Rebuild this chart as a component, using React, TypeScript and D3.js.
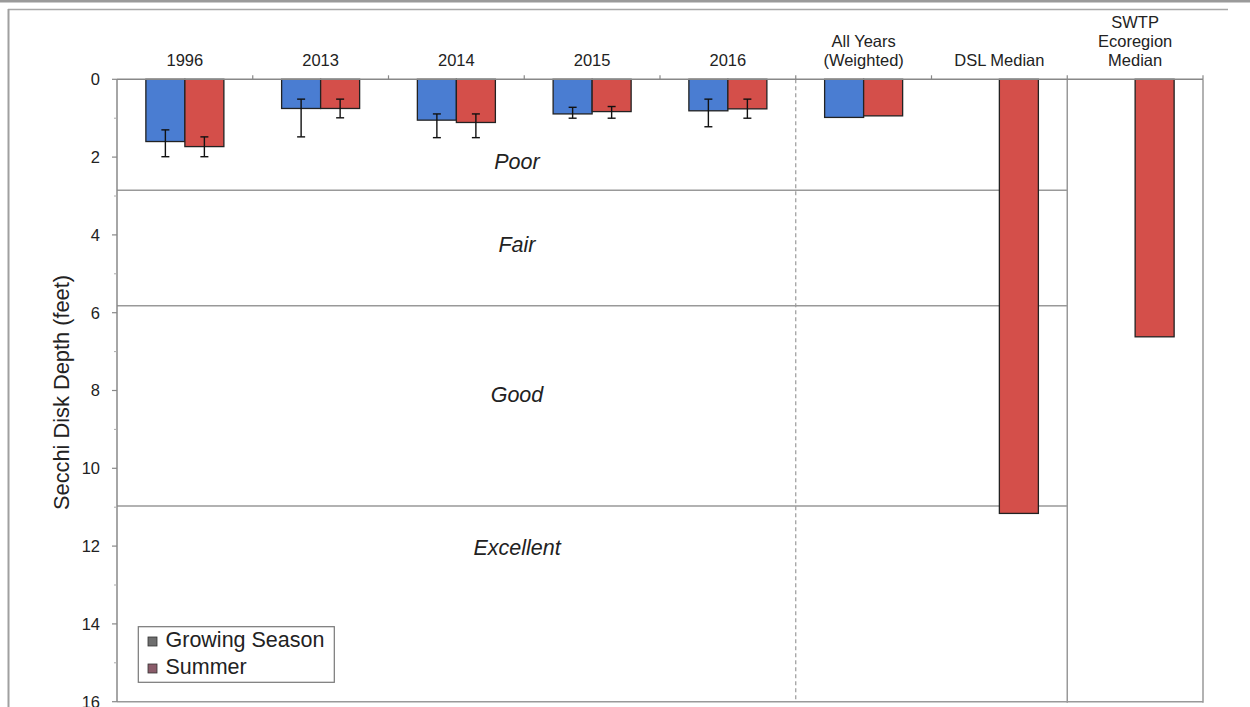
import React from 'react';
import * as d3 from 'd3';

const categories = ['1996', '2013', '2014', '2015', '2016', 'All Years (Weighted)', 'DSL Median', 'SWTP Ecoregion Median'];
const categoryLines = [['1996'], ['2013'], ['2014'], ['2015'], ['2016'], ['All Years', '(Weighted)'], ['DSL Median'], ['SWTP', 'Ecoregion', 'Median']];
const seriesNames = ['Growing Season', 'Summer'];
const growingSeason: (number | null)[] = [1.6, 0.75, 1.05, 0.89, 0.81, 0.98, null, null];
const summer: (number | null)[] = [1.73, 0.75, 1.11, 0.83, 0.76, 0.94, 11.16, 6.62];
const growingErrLow: (number | null)[] = [1.3, 0.51, 0.89, 0.72, 0.51, null, null, null];
const growingErrHigh: (number | null)[] = [1.99, 1.48, 1.5, 1.0, 1.22, null, null, null];
const summerErrLow: (number | null)[] = [1.48, 0.51, 0.89, 0.7, 0.51, null, null, null];
const summerErrHigh: (number | null)[] = [1.99, 0.99, 1.5, 1.0, 1.0, null, null, null];
const yTicks = [0, 2, 4, 6, 8, 10, 12, 14, 16];
const yMinorTicks = [1, 3, 5, 7, 9, 11, 13, 15];
const thresholds = [2.85, 5.82, 10.97];
const zoneNames = ['Poor', 'Fair', 'Good', 'Excellent'];
const zoneLabelDepth = [2.31, 4.45, 8.3, 12.23];

const W = 1250;
const H = 707;
const LEFT = 117;
const RIGHT = 1203;
const TOP = 79.3;
const BOTTOM = 701.7;
const FONT = 'Arial, "Liberation Sans", Helvetica, sans-serif';
const BLUE = '#4a7dd2';
const RED = '#d44f4a';

export default function App() {
  const x = d3.scaleBand<string>().domain(categories).range([LEFT, RIGHT]).paddingInner(0).paddingOuter(0);
  const xs = d3.scaleBand<string>().domain(seriesNames).range([0, x.bandwidth()]).paddingInner(0).paddingOuter(0.74);
  const y = d3.scaleLinear().domain([0, 16]).range([TOP, BOTTOM]);

  const series = [
    { name: seriesNames[0], values: growingSeason, lo: growingErrLow, hi: growingErrHigh, color: BLUE },
    { name: seriesNames[1], values: summer, lo: summerErrLow, hi: summerErrHigh, color: RED },
  ];

  const dashX = x(categories[5])!;
  const panelX = x(categories[7])!;
  const catCenter = (c: string) => x(c)! + x.bandwidth() / 2;

  return (
    <svg width={W} height={H} style={{ position: 'absolute', left: 0, top: 0, background: '#fff' }} fontFamily={FONT}>
      <rect x={0} y={0} width={W} height={H} fill="#fff" />
      {/* outer frame */}
      <rect x={0} y={0} width={W} height={2.5} fill="#9a9a9a" />
      <line x1={8} x2={1228} y1={9.5} y2={9.5} stroke="#a8a8a8" strokeWidth={1.5} />
      <line x1={8.5} x2={8.5} y1={9} y2={H} stroke="#a0a0a0" strokeWidth={2} />

      {/* threshold lines */}
      {thresholds.map((t, i) => (
        <line key={'th' + i} x1={LEFT} x2={panelX} y1={y(t)} y2={y(t)} stroke="#999" strokeWidth={1.5} />
      ))}

      {/* dashed separator */}
      <line x1={dashX} x2={dashX} y1={TOP} y2={BOTTOM} stroke="#9a9a9a" strokeWidth={1.2} strokeDasharray="4,3" />

      {/* panel lines */}
      <line x1={panelX} x2={panelX} y1={TOP} y2={BOTTOM + 1} stroke="#999" strokeWidth={1.5} />
      <line x1={RIGHT} x2={RIGHT} y1={TOP} y2={BOTTOM + 1} stroke="#999" strokeWidth={1.5} />
      <line x1={LEFT} x2={RIGHT} y1={BOTTOM} y2={BOTTOM} stroke="#999" strokeWidth={1.5} />

      {/* zone labels */}
      {zoneNames.map((z, i) => (
        <text key={z} x={517} y={y(zoneLabelDepth[i])} textAnchor="middle" fontSize={21.5} fontStyle="italic" fill="#222">
          {z}
        </text>
      ))}

      {/* bars */}
      {series.map((s) =>
        categories.map((c, i) => {
          const v = s.values[i];
          if (v == null) return null;
          const bx = x(c)! + xs(s.name)!;
          return (
            <rect key={s.name + c} x={bx} y={y(0)} width={xs.bandwidth()} height={y(v) - y(0)} fill={s.color} stroke="#222" strokeWidth={1.3} />
          );
        })
      )}

      {/* error bars */}
      {series.map((s) =>
        categories.map((c, i) => {
          const lo = s.lo[i];
          const hi = s.hi[i];
          if (lo == null || hi == null) return null;
          const cx = x(c)! + xs(s.name)! + xs.bandwidth() / 2;
          return (
            <g key={'e' + s.name + c} stroke="#111" strokeWidth={1.4}>
              <line x1={cx} x2={cx} y1={y(lo)} y2={y(hi)} />
              <line x1={cx - 4} x2={cx + 4} y1={y(lo)} y2={y(lo)} />
              <line x1={cx - 4} x2={cx + 4} y1={y(hi)} y2={y(hi)} />
            </g>
          );
        })
      )}

      {/* top category axis */}
      <line x1={LEFT} x2={RIGHT} y1={TOP} y2={TOP} stroke="#888" strokeWidth={1.5} />
      {categories.slice(1).map((c) => (
        <line key={'tk' + c} x1={x(c)!} x2={x(c)!} y1={TOP} y2={TOP - 4} stroke="#888" strokeWidth={1.2} />
      ))}
      <line x1={RIGHT} x2={RIGHT} y1={TOP} y2={TOP - 4} stroke="#888" strokeWidth={1.2} />
      {categories.map((c, i) => {
        const lines = categoryLines[i];
        return lines.map((ln, j) => (
          <text key={c + j} x={catCenter(c)} y={66 - (lines.length - 1 - j) * 19} textAnchor="middle" fontSize={16.5} fill="#222">
            {ln}
          </text>
        ));
      })}

      {/* y axis */}
      <line x1={LEFT} x2={LEFT} y1={TOP} y2={BOTTOM} stroke="#888" strokeWidth={1.5} />
      {yTicks.map((t) => (
        <g key={'y' + t}>
          <line x1={LEFT - 5} x2={LEFT} y1={y(t)} y2={y(t)} stroke="#888" strokeWidth={1.2} />
          <text x={100} y={y(t)} dy="0.36em" textAnchor="end" fontSize={16.5} fill="#222">
            {t}
          </text>
        </g>
      ))}
      {yMinorTicks.map((t) => (
        <line key={'ym' + t} x1={LEFT - 3} x2={LEFT} y1={y(t)} y2={y(t)} stroke="#aaa" strokeWidth={1} />
      ))}
      <text transform={`translate(69, ${392.5}) rotate(-90)`} textAnchor="middle" fontSize={21.8} fill="#222">
        Secchi Disk Depth (feet)
      </text>

      {/* legend */}
      <rect x={138.3} y={626.7} width={196} height={55.6} fill="#fff" stroke="#777" strokeWidth={1.2} />
      <rect x={148} y={637} width={9} height={9} fill="#6e6e6e" stroke="#333" strokeWidth={0.8} />
      <text x={165.5} y={646.5} fontSize={21.5} fill="#222">{seriesNames[0]}</text>
      <rect x={148} y={664} width={9} height={9} fill="#8a5c6a" stroke="#333" strokeWidth={0.8} />
      <text x={165.5} y={674} fontSize={21.5} fill="#222">{seriesNames[1]}</text>
    </svg>
  );
}
